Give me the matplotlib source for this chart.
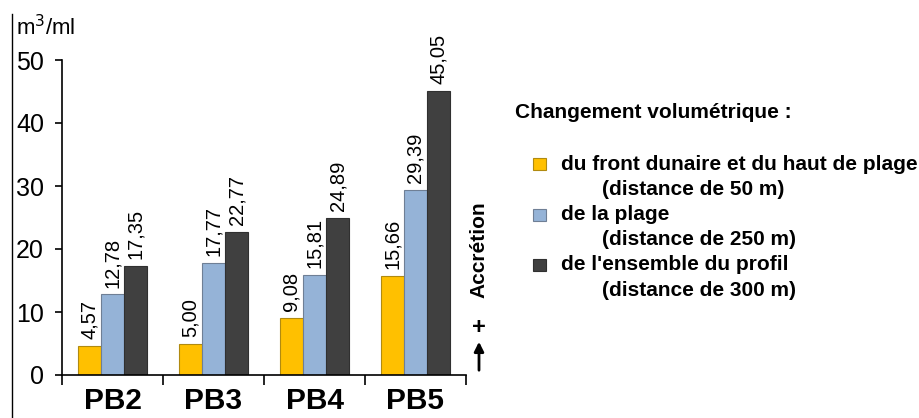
import matplotlib
matplotlib.use("Agg")
import matplotlib.pyplot as plt
from matplotlib.patches import Rectangle
from matplotlib.lines import Line2D

plt.rcParams['font.family'] = ['Liberation Sans', 'DejaVu Sans']

# Data
profils = ["PB2", "PB3", "PB4", "PB5"]
front_dunaire = [4.57, 5.00, 9.08, 15.66]
plage = [12.78, 17.77, 15.81, 29.39]
ensemble = [17.35, 22.77, 24.89, 45.05]
series_labels = ["du front dunaire et du haut de plage", "de la plage", "de l'ensemble du profil"]
distances = ["(distance de 50 m)", "(distance de 250 m)", "(distance de 300 m)"]
colors = ["#FFC000", "#95B3D7", "#404040"]
edges = ["#B08A10", "#6F7F95", "#303030"]

fig = plt.figure(figsize=(9.2, 4.18), dpi=100)
ax = fig.add_axes([62 / 920, 1 - 375 / 418, (466 - 62) / 920, (375 - 60) / 418])

width = 0.228
x = list(range(len(profils)))
for i, values in enumerate([front_dunaire, plage, ensemble]):
    pos = [xi + (i - 1) * width for xi in x]
    ax.bar(pos, values, width=width, color=colors[i], edgecolor=edges[i], linewidth=0.8, zorder=2)
    for p, v in zip(pos, values):
        ax.annotate(f"{v:.2f}".replace(".", ","), (p, v), xytext=(0, 5), textcoords="offset points",
                    rotation=90, ha="center", va="bottom", fontsize=14.5)

ax.set_xlim(-0.5, len(profils) - 0.5)
ax.set_ylim(0, 50)
ax.set_yticks([0, 10, 20, 30, 40, 50])
ax.tick_params(axis="y", direction="out", length=5, width=1.2, pad=8, labelsize=18)
ax.set_xticks([b - 0.5 for b in range(len(profils) + 1)])
ax.set_xticklabels([])
ax.set_xticks(x, minor=True)
ax.set_xticklabels(profils, minor=True, fontsize=21.5, fontweight="bold")
ax.tick_params(axis="x", which="major", direction="out", length=7, width=1.2)
ax.tick_params(axis="x", which="minor", length=0, pad=8.5)
for s in ["top", "right"]:
    ax.spines[s].set_visible(False)
for s in ["left", "bottom"]:
    ax.spines[s].set_linewidth(1.2)

fig.text(16 / 920, 1 - 28 / 418, "m$^3$/ml", fontsize=16, va="center", ha="left")

# left border line
fig.add_artist(Line2D([12 / 920, 12 / 920], [0, 1 - 14 / 418], color="black", linewidth=1))

# accretion indicator
fig.text(479 / 920, 1 - 250 / 418, "Accrétion", rotation=90, fontsize=15, fontweight="bold",
         ha="center", va="center")
fig.text(479 / 920, 1 - 327 / 418, "+", fontsize=17, fontweight="bold", ha="center", va="center")
ax.annotate("", xy=(479 / 920, 1 - 339 / 418), xytext=(479 / 920, 1 - 373 / 418),
            xycoords="figure fraction", textcoords="figure fraction",
            arrowprops=dict(arrowstyle="-|>", color="black", lw=2, mutation_scale=14))

# legend
fig.text(515 / 920, 1 - 113 / 418, "Changement volumétrique :", fontsize=15, fontweight="bold",
         ha="left", va="center")
entry_y = [164, 215, 265]
for i in range(3):
    yc = 1 - entry_y[i] / 418
    fig.add_artist(Rectangle((533 / 920, yc - 6 / 418), 13 / 920, 12 / 418,
                             facecolor=colors[i], edgecolor=edges[i], linewidth=0.8,
                             transform=fig.transFigure))
    fig.text(561 / 920, yc, series_labels[i], fontsize=15, fontweight="bold", ha="left", va="center")
    fig.text(602 / 920, yc - 25 / 418, distances[i], fontsize=15, fontweight="bold",
             ha="left", va="center")

fig.savefig("out.png", dpi=100)
